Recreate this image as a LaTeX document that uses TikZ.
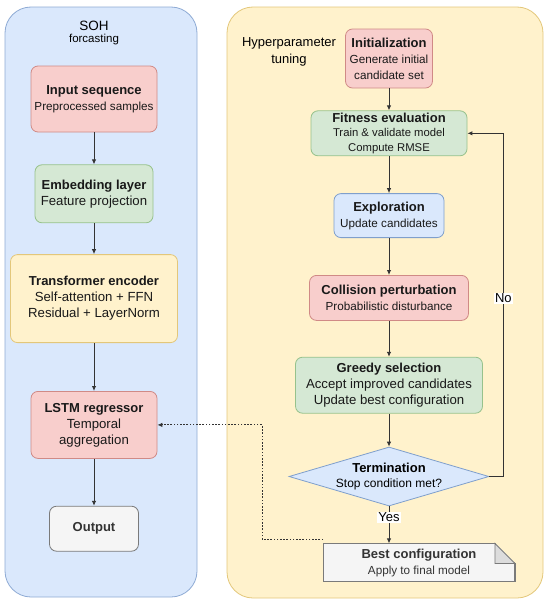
\documentclass[tikz,border=0pt]{standalone}
\usepackage{fontspec}
\setmainfont{Liberation Sans}
\usetikzlibrary{arrows.meta,positioning,shapes.geometric}
\definecolor{SohFill}{HTML}{DAE8FC}
\definecolor{SohLine}{HTML}{8EAAD4}
\definecolor{HypFill}{HTML}{FFF2CC}
\definecolor{HypLine}{HTML}{E3C77A}
\definecolor{RedFill}{HTML}{F8CECC}
\definecolor{RedLine}{HTML}{D08A86}
\definecolor{GreenFill}{HTML}{D5E8D4}
\definecolor{GreenLine}{HTML}{97C28C}
\definecolor{BlueFill}{HTML}{DAE8FC}
\definecolor{BlueLine}{HTML}{7F9FCC}
\definecolor{GrayFill}{HTML}{F5F5F5}
\definecolor{GrayLine}{HTML}{7A7A7A}
\definecolor{FoldFill}{HTML}{DCDCDC}
\definecolor{ArrowDark}{HTML}{333333}
\newcommand{\hd}[1]{{\fontsize{13}{15.5}\selectfont\bfseries #1}}

\begin{document}
\begin{tikzpicture}[
  x=1pt,y=-1pt,
  node distance=32pt,
  panel/.style={rounded corners=26pt,line width=0.8pt,inner sep=0pt},
  box/.style={rounded corners=7pt,line width=0.8pt,align=center,inner sep=1pt,
    font=\fontsize{11.7}{16}\selectfont,text=black!90},
  bigtext/.style={font=\fontsize{13.2}{16}\selectfont},
  redbox/.style={box,draw=RedLine,fill=RedFill},
  greenbox/.style={box,draw=GreenLine,fill=GreenFill},
  bluebox/.style={box,draw=BlueLine,fill=BlueFill},
  yellowbox/.style={box,draw=HypLine,fill=HypFill},
  graybox/.style={box,draw=GrayLine,fill=GrayFill,text=ArrowDark},
  arrow/.style={-{Latex[length=5pt,width=4.5pt]},draw=ArrowDark,line width=0.9pt},
  dotarrow/.style={arrow,dash pattern=on 1.6pt off 1.6pt},
  tag/.style={fill=white,inner sep=1pt,font=\fontsize{13}{15}\selectfont}
]
\useasboundingbox (0,0) rectangle (550,605);

% containers
\node[panel,draw=SohLine,fill=SohFill,minimum width=192pt,minimum height=590pt] (sohpanel) at (101,302) {};
\node[panel,draw=HypLine,fill=HypFill,minimum width=316pt,minimum height=591pt] (hyppanel) at (385,302.5) {};
\node[align=center] (sohtitle) at (94,33) {{\fontsize{13.5}{17}\selectfont SOH}\\{\fontsize{11.5}{13}\selectfont forcasting}};
\node[align=center,font=\fontsize{13}{17}\selectfont] (hyptitle) at (289,51.5) {Hyperparameter\\tuning};

% SOH forecasting chain
\node[redbox,minimum width=126pt,minimum height=66pt] (input) at (94,99) {\hd{Input sequence}\\Preprocessed samples};
\node[greenbox,bigtext,below=32pt of input,minimum width=118pt,minimum height=58pt] (embed) {\hd{Embedding layer}\\Feature projection};
\node[yellowbox,bigtext,below=31pt of embed,minimum width=167pt,minimum height=88pt] (encoder) {\hd{Transformer encoder}\\Self-attention + FFN\\Residual + LayerNorm};
\node[redbox,bigtext,below=48pt of encoder,minimum width=126pt,minimum height=67pt] (lstm) {\hd{LSTM regressor}\\Temporal\\aggregation};
\node[graybox,below=47pt of lstm,minimum width=89pt,minimum height=45pt] (output) {\hd{Output}};

% hyperparameter tuning loop
\node[redbox,minimum width=87pt,minimum height=59pt] (init) at (389,58.5) {\hd{Initialization}\\Generate initial\\candidate set};
\node[greenbox,below=22pt of init,minimum width=156pt,minimum height=45pt,font=\fontsize{11.3}{14.7}\selectfont] (fitness) {\hd{Fitness evaluation}\\Train \& validate model\\Compute RMSE};
\node[bluebox,below=37pt of fitness,minimum width=110pt,minimum height=44pt] (explore) {\hd{Exploration}\\Update candidates};
\node[redbox,below=37pt of explore,minimum width=159pt,minimum height=45pt] (collide) {\hd{Collision perturbation}\\Probabilistic disturbance};
\node[greenbox,bigtext,below=36pt of collide,minimum width=187pt,minimum height=56pt] (greedy) {\hd{Greedy selection}\\Accept improved candidates\\Update best configuration};
\node[diamond,draw=BlueLine,fill=BlueFill,line width=0.8pt,shape aspect=3.4,inner sep=0pt,
  minimum width=200pt,minimum height=59pt,align=center,font=\fontsize{12}{15.5}\selectfont,
  below=33pt of greedy] (term) {\hd{Termination}\\Stop condition met?};
\node[graybox,rounded corners=0pt,below=37pt of term,xshift=30pt,minimum width=191pt,minimum height=38pt,
  font=\fontsize{11.7}{15.5}\selectfont] (best) {\hd{Best configuration}\\Apply to final model};
% folded corner of the note
\fill[HypFill] ([xshift=-20pt,yshift=1pt]best.north east) -- ([xshift=1pt,yshift=1pt]best.north east) -- ([xshift=1pt,yshift=-20pt]best.north east) -- cycle;
\draw[GrayLine,line width=0.8pt,fill=FoldFill] ([xshift=-20pt]best.north east) -- ([xshift=-20pt,yshift=-20pt]best.north east) -- ([yshift=-20pt]best.north east) -- cycle;
\draw[GrayLine,line width=0.8pt] (best.north west) -- ([xshift=-20pt]best.north east);
\draw[GrayLine,line width=0.8pt] ([yshift=-20pt]best.north east) -- (best.south east);

% connectors
\draw[arrow] (input) -- (embed);
\draw[arrow] (embed) -- (encoder);
\draw[arrow] (encoder) -- (lstm);
\draw[arrow] (lstm) -- (output);
\draw[arrow] (init) -- (fitness);
\draw[arrow] (fitness) -- (explore);
\draw[arrow] (explore) -- (collide);
\draw[arrow] (collide) -- (greedy);
\draw[arrow] (greedy) -- (term);
\draw[arrow] (term.east) -- ++(14pt,0) |- node[tag,pos=0.26] {No} (fitness.east);
\draw[arrow] (term.south) -- node[tag,pos=0.3] {Yes} (term.south |- best.north);
\draw[dotarrow] ([yshift=4pt]best.north west) -- ++(-61pt,0) |- (lstm.east);
\end{tikzpicture}
\end{document}
